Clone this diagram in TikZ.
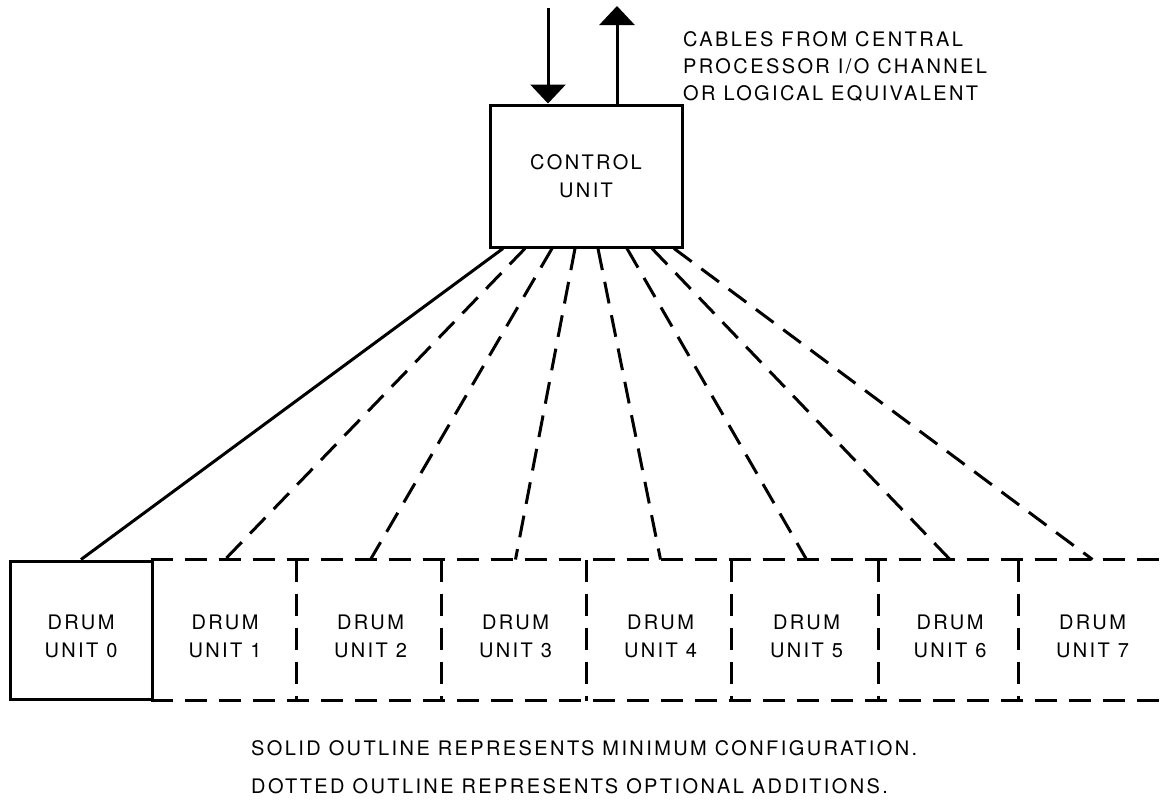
\documentclass[tikz,border=0pt]{standalone}
\usepackage{fontspec}
\setmainfont{TeX Gyre Heros}[LetterSpace=12]
\usetikzlibrary{arrows.meta}

\newcommand{\drumlabel}[1]{\rule{0pt}{27pt}DRUM\\UNIT #1}

\tikzset{
  unitbox/.style={draw, line width=3pt, align=center, inner sep=0pt,
    font=\fontsize{20}{28}\selectfont},
  drumtext/.style={unitbox, draw=none},
  cable/.style={line width=3pt},
  optcable/.style={cable, dash pattern=on 22pt off 12pt},
  bus/.style={line width=3pt, -{Triangle[width=35pt,length=19pt]}},
  note/.style={inner sep=0pt, font=\fontsize{20}{27}\selectfont},
}

\begin{document}
\begin{tikzpicture}[x=1pt,y=-1pt]
        \useasboundingbox (0,0) rectangle (1165,801);

        % control unit and channel cables
        \node[unitbox, minimum width=192pt, minimum height=142pt] (ctrl) at (586,176) {CONTROL\\UNIT};
        \coordinate (chin) at (548,8);
        \coordinate (chout) at (617,6);
        \draw[bus] (chin) -- (chin |- ctrl.north);
        \draw[bus] (chout |- ctrl.north) -- (chout);
        \node[note, anchor=north west, align=left] (cables) at (683,31)
            {CABLES FROM CENTRAL\\PROCESSOR I/O CHANNEL\\OR LOGICAL EQUIVALENT};

        % drum units
        \node[unitbox, minimum width=142pt, minimum height=138pt] (drum0) at (81,630) {\drumlabel{0}};
        \foreach \n/\x/\w in {1/225/146, 2/370.5/145, 3/515.5/145, 4/660.5/145, 5/806.5/147, 6/950/140, 7/1092.5/145}
            \node[drumtext, minimum width=\w pt, minimum height=138pt] (drum\n) at (\x,630) {\drumlabel{\n}};

        \draw[optcable] (drum1.north west) -- (drum7.north east);
        \draw[optcable] (drum1.south west) -- (drum7.south east);
        \foreach \n in {2,...,7}
            \draw[optcable] (drum\n.north west) -- (drum\n.south west);

        % connections
        \draw[cable] ([xshift=-83pt]ctrl.south) -- (drum0.north);
        \foreach \n/\dx in {1/-61, 2/-34, 3/-11, 4/12, 5/41, 6/66, 7/88}
            \draw[optcable] ([xshift=\dx pt]ctrl.south) -- (drum\n.north);

        % notes
        \node[note, anchor=base west] (note1) at (251,755) {SOLID OUTLINE REPRESENTS MINIMUM CONFIGURATION.};
        \node[note, anchor=base west] (note2) at (251,793) {DOTTED OUTLINE REPRESENTS OPTIONAL ADDITIONS.};
    \end{tikzpicture}
\end{document}
